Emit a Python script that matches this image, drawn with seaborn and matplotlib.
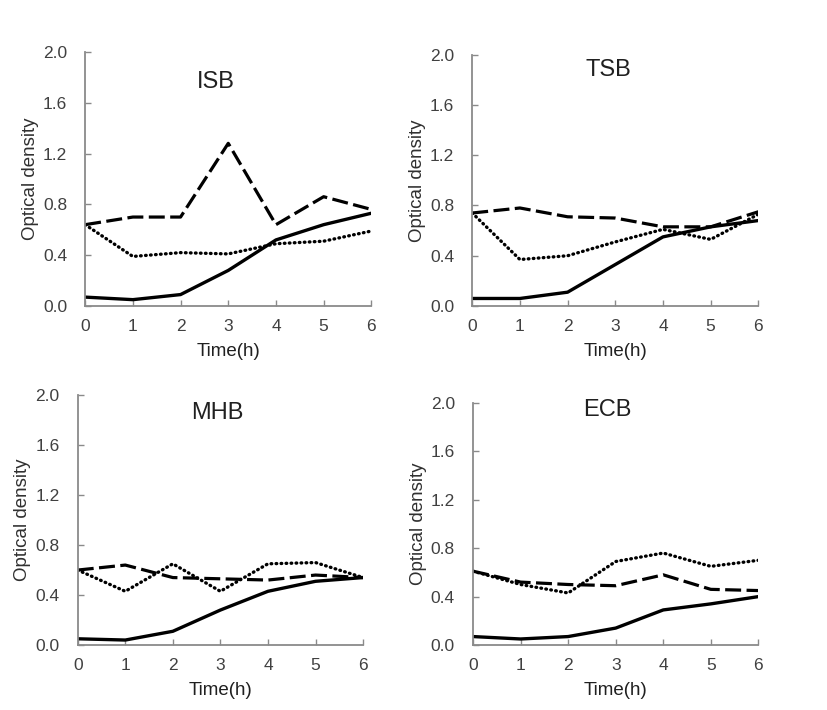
import seaborn as sns
import matplotlib.pyplot as plt
import pandas as pd

time_h = [0, 1, 2, 3, 4, 5, 6]
panels = ["ISB", "TSB", "MHB", "ECB"]

# optical density readings, one list per panel and line
isb_solid = [0.07, 0.05, 0.09, 0.28, 0.52, 0.64, 0.73]
isb_dashed = [0.64, 0.70, 0.70, 1.28, 0.64, 0.86, 0.76]
isb_dotted = [0.64, 0.39, 0.42, 0.41, 0.49, 0.51, 0.59]

tsb_solid = [0.06, 0.06, 0.11, 0.33, 0.55, 0.63, 0.68]
tsb_dashed = [0.74, 0.78, 0.71, 0.70, 0.63, 0.63, 0.75]
tsb_dotted = [0.74, 0.37, 0.40, 0.51, 0.61, 0.53, 0.73]

mhb_solid = [0.05, 0.04, 0.11, 0.28, 0.43, 0.51, 0.54]
mhb_dashed = [0.60, 0.64, 0.54, 0.53, 0.52, 0.56, 0.54]
mhb_dotted = [0.60, 0.43, 0.65, 0.43, 0.65, 0.66, 0.54]

ecb_solid = [0.07, 0.05, 0.07, 0.14, 0.29, 0.34, 0.40]
ecb_dashed = [0.61, 0.52, 0.50, 0.49, 0.58, 0.46, 0.45]
ecb_dotted = [0.61, 0.50, 0.43, 0.69, 0.76, 0.65, 0.70]

series = {
    "ISB": (isb_solid, isb_dashed, isb_dotted),
    "TSB": (tsb_solid, tsb_dashed, tsb_dotted),
    "MHB": (mhb_solid, mhb_dashed, mhb_dotted),
    "ECB": (ecb_solid, ecb_dashed, ecb_dotted),
}

sns.set_theme(style="ticks")
plt.rcParams["font.family"] = ["Liberation Sans", "DejaVu Sans"]

fig = plt.figure(figsize=(8.27, 7.10), dpi=100)
boxes = [
    [0.103, 0.569, 0.346, 0.358],
    [0.571, 0.569, 0.346, 0.354],
    [0.094, 0.0915, 0.345, 0.352],
    [0.572, 0.0915, 0.345, 0.341],
]
title_pos = [(0.455, 0.88), (0.475, 0.94), (0.49, 0.93), (0.47, 0.97)]

for name, box, tpos in zip(panels, boxes, title_pos):
    ax = fig.add_axes(box)
    solid, dashed, dotted = series[name]
    df = pd.DataFrame({"t": time_h, "solid": solid, "dashed": dashed, "dotted": dotted})
    sns.lineplot(data=df, x="t", y="solid", ax=ax, color="black", lw=2.4)
    sns.lineplot(data=df, x="t", y="dashed", ax=ax, color="black", lw=2.3,
                 linestyle=(0, (5, 1.7)))
    sns.lineplot(data=df, x="t", y="dotted", ax=ax, color="black", lw=2.4,
                 linestyle=(0, (0.2, 1.3)), dash_capstyle="round")

    ax.set_xlim(0, 6)
    ax.set_ylim(0, 2.0)
    ax.set_xticks(time_h)
    ax.set_yticks([0.0, 0.4, 0.8, 1.2, 1.6, 2.0])
    ax.set_yticklabels(["0.0", "0.4", "0.8", "1.2", "1.6", "2.0"])
    ax.tick_params(direction="in", length=4, width=1, color="#8a8a8a",
                   labelsize=12.5, labelcolor="#404040")
    ax.tick_params(axis="x", pad=9)
    ax.tick_params(axis="y", pad=13)
    for s in ["left", "bottom"]:
        ax.spines[s].set_color("#8a8a8a")
        ax.spines[s].set_linewidth(1.3)
    sns.despine(ax=ax)
    ax.set_xlabel("Time(h)", fontsize=13.5, color="#202020", labelpad=7)
    ax.set_ylabel("Optical density", fontsize=13.5, color="#303030", labelpad=3)
    ax.text(tpos[0], tpos[1], name, transform=ax.transAxes, ha="center", va="center",
            fontsize=17, color="#202020")

plt.savefig("out.png", dpi=100)
